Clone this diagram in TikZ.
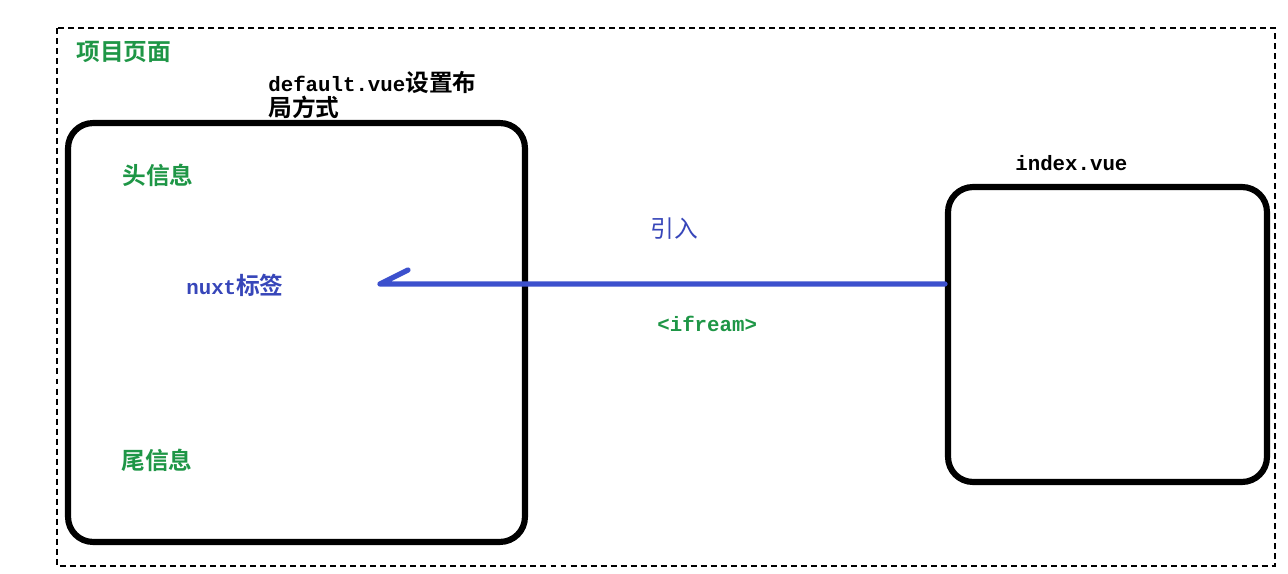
\documentclass[tikz,border=0pt]{standalone}
\usepackage{fontspec}
\setmainfont{Noto Sans CJK SC}[BoldFont={Noto Sans CJK SC Bold}]
\setmonofont{Liberation Mono}[Scale=0.875]
\definecolor{labgreen}{RGB}{30,150,70}
\definecolor{labblue}{RGB}{55,70,185}
\definecolor{linkblue}{RGB}{60,80,205}
\tikzset{
  pagebox/.style={draw, rounded corners=0.5cm, line width=3.5pt, inner sep=0pt},
  lab/.style={anchor=west, inner sep=0pt, font=\fontsize{13.5}{15}\selectfont\bfseries},
  link/.style={draw=linkblue, line width=3pt, line cap=round, line join=round}
}

\begin{document}
\begin{tikzpicture}[x=0.02cm, y=-0.02cm]
\useasboundingbox (0,0) rectangle (1288,574);
\draw[dash pattern=on 3.4pt off 2.3pt, line width=0.8pt] (57,28) rectangle (1275,566);

\node[pagebox, minimum width=9.14cm, minimum height=8.38cm] (layout) at (296.5,332.5) {};
\node[pagebox, minimum width=6.38cm, minimum height=5.9cm] (index) at (1107.5,334.5) {};

\node[lab, labgreen] (project) at (76,52) {项目页面};
\node[lab, align=left, font=\fontsize{13.5}{14.7}\selectfont\bfseries] (deflabel) at (268,95) {\texttt{default.vue}设置布\\局方式};
\node[lab, labgreen] (header) at (122,175) {头信息};
\node[lab, labblue] (nuxt) at (186,285) {\texttt{nuxt}标签};
\node[lab, labgreen] (footer) at (121,460) {尾信息};
\node[lab, labblue, font=\fontsize{13.5}{15}\selectfont] (import) at (650,229) {引入};
\node[lab, labgreen] (iframe) at (657,324) {\texttt{<ifream>}};
\node[lab] (idxlabel) at (1015,163) {\texttt{index.vue}};

\coordinate (tip) at (380,284);
\coordinate (hook) at (408,270);
\draw[link] (index.west |- tip) -- (tip) -- (hook);
\end{tikzpicture}
\end{document}
